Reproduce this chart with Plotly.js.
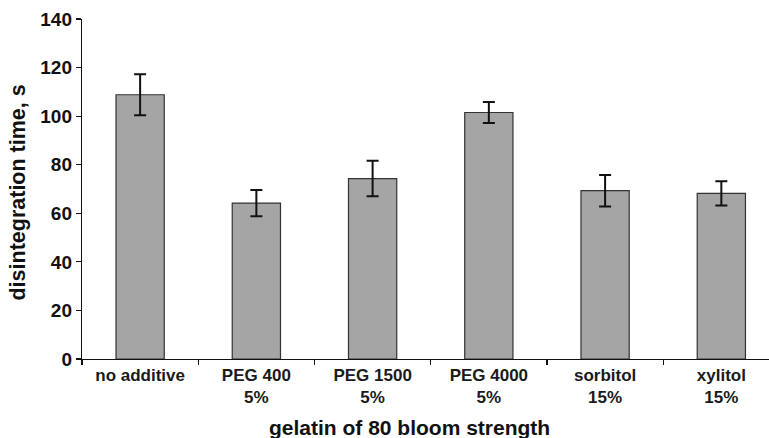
<!DOCTYPE html>
<html>
<head>
<meta charset="utf-8">
<script src="https://cdn.plot.ly/plotly-3.0.1.min.js"></script>
<style>html,body{margin:0;padding:0;background:#fff}#chart{width:769px;height:438px}</style>
</head>
<body>
<div id="chart"></div>
<script>
const categories = ["no additive", "PEG 400<br>5%", "PEG 1500<br>5%", "PEG 4000<br>5%", "sorbitol<br>15%", "xylitol<br>15%"];
const meanTime = [108.8, 64.2, 74.3, 101.5, 69.3, 68.2];
const sdTime = [8.4, 5.4, 7.3, 4.3, 6.5, 5.0];
const yTicks = [0, 20, 40, 60, 80, 100, 120, 140];
const xTitle = "gelatin of 80 bloom strength";
const yTitle = "disintegration time, s";

const trace = {
  type: "bar",
  x: categories,
  y: meanTime,
  width: 0.415,
  marker: {color: "#a5a5a5", line: {color: "#333333", width: 1.2}},
  error_y: {type: "data", array: sdTime, visible: true, color: "#111111", thickness: 2, width: 6}
};

const layout = {
  width: 769, height: 438,
  margin: {l: 82, r: 0, t: 19, b: 79},
  paper_bgcolor: "#fff", plot_bgcolor: "#fff",
  showlegend: false,
  font: {family: "Liberation Sans, Arial, sans-serif", color: "#111"},
  xaxis: {
    type: "category",
    range: [-0.5, 5.41],
    showline: true, linecolor: "#111", linewidth: 1.2,
    ticks: "outside", ticklen: 5, tickcolor: "#111", tickwidth: 1.2,
    tickson: "boundaries",
    tickfont: {size: 17, color: "#1a1a1a", weight: "bold"},
    fixedrange: true
  },
  yaxis: {
    range: [0, 140],
    tickvals: yTicks,
    showline: true, linecolor: "#111", linewidth: 1.2,
    ticks: "outside", ticklen: 5, tickcolor: "#111", tickwidth: 1.2,
    showgrid: false, zeroline: false,
    tickfont: {size: 19, color: "#111", weight: "bold"},
    fixedrange: true
  },
  annotations: [
    {text: "<b>" + xTitle + "</b>", xref: "paper", yref: "paper", x: 0.477, y: -0.2,
     xanchor: "center", yanchor: "middle", showarrow: false, font: {size: 21, color: "#111"}},
    {text: "<b>" + yTitle + "</b>", xref: "paper", yref: "paper", x: -0.093, y: 0.49,
     xanchor: "center", yanchor: "middle", textangle: -90, showarrow: false, font: {size: 21.5, color: "#111"}}
  ]
};

Plotly.newPlot("chart", [trace], layout, {displayModeBar: false, staticPlot: true});
</script>
</body>
</html>
